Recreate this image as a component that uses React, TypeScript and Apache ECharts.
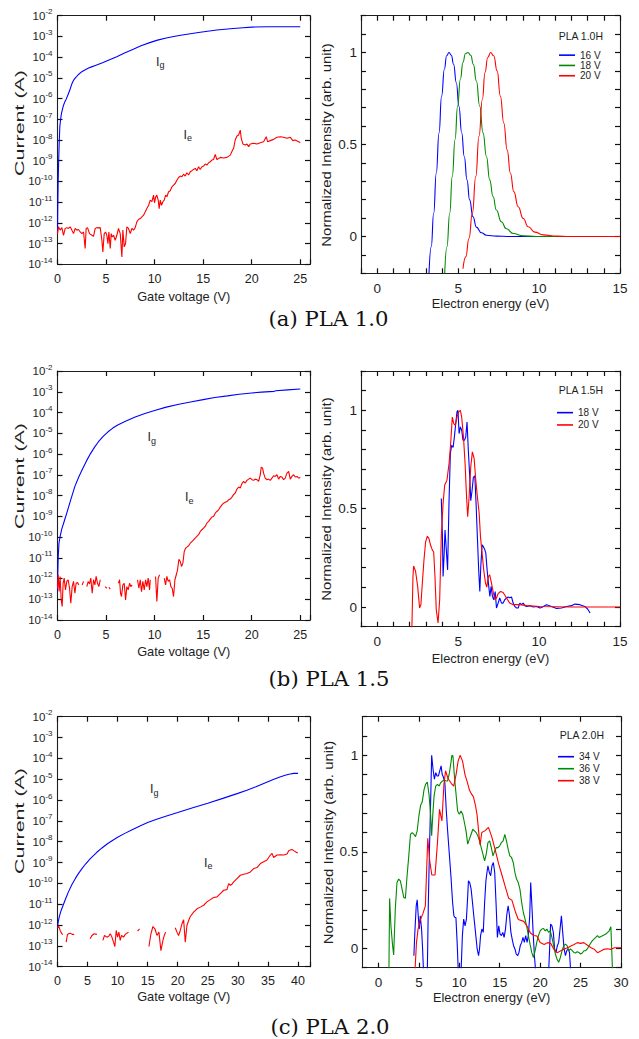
import React, { useEffect, useRef } from "react";
import * as echarts from "echarts";

const GAP: any = ["-", "-"];

// ===== Left panels: [gate voltage (V), log10(current / A)] =====
const igA = [[0,-12.5],[0.03,-11.2],[0.07,-10.0],[0.12,-9.0],[0.17,-8.2],[0.24,-7.35],[0.32,-7.0],[0.41,-6.71],[0.5,-6.53],[0.58,-6.39],[0.67,-6.26],[0.76,-6.15],[0.85,-6.07],[0.93,-5.99],[1.1,-5.79],[1.27,-5.59],[1.44,-5.34],[1.56,-5.2],[1.68,-5.1],[1.82,-5.01],[1.96,-4.94],[2.13,-4.85],[2.3,-4.78],[2.55,-4.69],[2.82,-4.62],[3.15,-4.54],[3.5,-4.47],[3.9,-4.4],[4.3,-4.33],[4.7,-4.26],[5.05,-4.19],[5.55,-4.09],[6.1,-3.98],[6.9,-3.8],[7.8,-3.62],[8.6,-3.45],[9.5,-3.3],[10.3,-3.18],[11.2,-3.08],[12.1,-2.99],[13.0,-2.92],[14.7,-2.8],[16.4,-2.69],[18.1,-2.62],[19.1,-2.58],[20.0,-2.55],[21.6,-2.53],[25.0,-2.53]];
const ieA = [[0,-12.52],[0.1,-12.19],[0.27,-12.35],[0.45,-12.23],[0.62,-12.6],[0.79,-12.27],[0.96,-12.23],[1.13,-12.27],[1.3,-12.19],[1.48,-12.35],[1.65,-12.52],[1.82,-12.27],[1.99,-12.35],[2.16,-12.32],[2.34,-12.44],[2.51,-12.52],[2.68,-12.44],[2.85,-13.24],[2.95,-12.27],[3.09,-12.23],[3.3,-12.52],[3.54,-12.6],[3.71,-12.65],[3.88,-12.27],[4.05,-12.23],[4.22,-12.24],[4.4,-12.23],[4.57,-12.84],[4.67,-13.4],[4.81,-12.52],[4.95,-12.44],[5.08,-12.6],[5.19,-13.0],[5.29,-12.44],[5.43,-13.24],[5.53,-12.52],[5.63,-12.68],[5.77,-12.6],[5.94,-12.84],[6.11,-12.6],[6.28,-12.27],[6.46,-12.52],[6.63,-13.65],[6.73,-12.35],[6.87,-13.16],[7.01,-13.0],[7.14,-12.19],[7.31,-12.27],[7.49,-12.52],[7.66,-12.27],[7.83,-12.35],[8.0,-12.23],[8.17,-11.95],[8.34,-11.84],[8.52,-11.79],[8.69,-11.71],[8.86,-11.63],[9.03,-11.47],[9.2,-11.31],[9.38,-11.15],[9.55,-10.9],[9.72,-10.98],[9.89,-10.66],[9.99,-11.03],[10.1,-10.77],[10.23,-10.66],[10.37,-10.9],[10.47,-11.31],[10.58,-10.9],[10.71,-11.15],[10.85,-10.98],[10.99,-10.9],[11.13,-10.66],[11.26,-10.74],[11.44,-10.5],[11.61,-10.45],[11.78,-10.26],[11.95,-10.18],[12.12,-10.1],[12.29,-9.94],[12.47,-9.81],[12.64,-9.74],[12.81,-9.77],[12.98,-9.65],[13.15,-9.74],[13.32,-9.58],[13.5,-9.69],[13.67,-9.53],[13.84,-9.48],[14.01,-9.42],[14.18,-9.37],[14.35,-9.48],[14.53,-9.29],[14.7,-9.42],[14.87,-9.29],[15.04,-9.26],[15.21,-9.16],[15.38,-9.21],[15.56,-9.1],[15.73,-9.05],[15.9,-8.97],[16.07,-8.94],[16.24,-8.69],[16.41,-8.94],[16.59,-8.89],[16.76,-8.84],[17.1,-8.87],[17.45,-8.84],[17.79,-8.73],[17.96,-8.56],[18.13,-8.4],[18.3,-8.0],[18.48,-7.81],[18.65,-7.76],[18.82,-7.52],[18.92,-7.92],[19.09,-8.19],[19.33,-8.24],[19.51,-8.19],[19.68,-8.32],[19.85,-8.19],[20.19,-8.16],[20.54,-8.19],[20.88,-8.13],[21.22,-8.08],[21.5,-7.84],[21.63,-8.08],[21.91,-8.03],[22.25,-7.97],[22.6,-7.87],[22.94,-7.84],[23.28,-7.87],[23.63,-7.92],[23.97,-7.87],[24.24,-8.03],[24.48,-8.0],[24.83,-8.08],[25.0,-8.13]];
const igB = [[0,-12.6],[0.03,-11.8],[0.07,-11.0],[0.15,-10.3],[0.27,-9.97],[0.45,-9.6],[0.62,-9.35],[0.82,-9.05],[1.1,-8.62],[1.4,-8.15],[1.8,-7.55],[2.2,-7.1],[2.6,-6.7],[3.0,-6.32],[3.4,-5.98],[3.8,-5.68],[4.2,-5.42],[4.7,-5.15],[5.2,-4.93],[5.7,-4.75],[6.2,-4.6],[7.0,-4.42],[8.0,-4.22],[9.0,-4.05],[10,-3.9],[11.2,-3.74],[12.5,-3.6],[13.7,-3.49],[15,-3.38],[16.2,-3.28],[17.5,-3.2],[18.7,-3.12],[20,-3.06],[21,-3.02],[22.3,-2.98],[22.5,-2.95],[23.7,-2.91],[25,-2.87]];
const ieB = [[0,-12.47],[0.07,-11.82],[0.17,-12.63],[0.27,-11.9],[0.38,-13.03],[0.48,-13.35],[0.58,-12.23],[0.69,-11.98],[0.82,-12.55],[0.96,-12.14],[1.1,-12.06],[1.24,-12.47],[1.37,-13.19],[1.51,-12.39],[1.65,-12.14],[1.79,-12.71],[1.92,-12.23],[2.06,-12.19],[2.2,-12.31],GAP,[2.54,-12.31],[2.68,-12.14],GAP,[3.02,-12.39],[3.16,-12.14],[3.3,-12.26],[3.43,-11.98],[3.57,-12.71],[3.71,-12.06],[3.85,-12.31],[3.98,-11.9],[4.12,-12.23],[4.26,-12.39],[4.4,-12.06],GAP,[4.91,-12.39],[5.08,-12.47],GAP,[5.29,-12.42],[5.43,-12.51],GAP,[6.28,-12.23],[6.39,-12.06],[6.49,-12.71],[6.59,-12.87],[6.73,-12.31],[6.87,-12.23],[7.01,-13.03],[7.14,-12.39],[7.28,-12.55],[7.42,-12.23],[7.55,-12.39],[7.69,-12.31],GAP,[8.24,-12.06],[8.38,-12.47],[8.52,-12.06],[8.65,-12.63],[8.79,-12.14],[8.93,-12.55],[9.07,-12.06],[9.2,-12.39],[9.34,-11.98],[9.48,-12.55],[9.55,-12.06],GAP,[10.1,-11.9],[10.23,-13.11],[10.37,-11.98],[10.51,-11.82],GAP,[10.99,-11.98],[11.13,-12.31],[11.26,-11.9],[11.4,-12.14],[11.54,-12.06],[11.68,-12.39],[11.81,-12.47],[11.95,-12.87],[12.09,-12.06],[12.23,-11.82],[12.36,-11.58],[12.5,-11.07],[12.64,-11.18],[12.77,-11.42],[12.91,-11.26],[13.05,-10.7],[13.19,-10.54],[13.32,-10.49],[13.5,-10.42],[13.67,-10.3],[13.84,-10.22],[14.01,-10.14],[14.18,-10.05],[14.35,-9.97],[14.53,-9.89],[14.7,-9.73],[14.87,-9.65],[15.04,-9.57],[15.21,-9.49],[15.38,-9.33],[15.56,-9.25],[15.73,-9.14],[15.9,-9.04],[16.07,-9.01],[16.24,-8.85],[16.41,-8.77],[16.59,-8.69],[16.76,-8.56],[16.93,-8.45],[17.1,-8.37],[17.27,-8.33],[17.45,-8.29],[17.62,-8.21],[17.79,-8.17],[17.96,-8.08],[18.13,-7.96],[18.3,-7.88],[18.48,-7.69],[18.65,-7.59],[18.82,-7.64],[18.99,-7.43],[19.16,-7.32],[19.33,-7.4],[19.51,-7.27],[19.68,-7.21],[19.85,-7.16],[20.02,-7.24],[20.19,-7.27],[20.36,-7.21],[20.54,-7.24],[20.71,-7.32],[20.88,-7.0],[20.98,-6.63],[21.12,-6.68],[21.22,-6.92],[21.39,-7.16],[21.57,-7.24],[21.74,-7.21],[21.91,-7.27],[22.08,-7.16],[22.25,-7.05],[22.42,-7.08],[22.6,-7.0],[22.77,-7.21],[22.94,-7.08],[23.11,-7.11],[23.28,-7.24],[23.45,-7.16],[23.63,-6.92],[23.8,-6.84],[23.97,-7.21],[24.14,-7.08],[24.31,-7.0],[24.48,-7.11],[24.66,-7.08],[24.83,-7.16],[25.0,-7.14]];
const igC = [[0,-12.07],[0.15,-11.8],[0.3,-11.6],[0.6,-11.3],[1.0,-11.0],[1.4,-10.7],[1.8,-10.42],[2.4,-10.05],[3.0,-9.75],[3.5,-9.52],[4.1,-9.28],[4.7,-9.06],[5.5,-8.8],[6.5,-8.52],[7.4,-8.3],[8.3,-8.1],[9.2,-7.93],[10,-7.79],[11.2,-7.6],[12.5,-7.41],[13.8,-7.23],[15.1,-7.07],[16.5,-6.92],[18,-6.78],[20,-6.6],[22.5,-6.37],[25,-6.15],[27.5,-5.92],[30,-5.68],[31.5,-5.53],[33,-5.36],[34,-5.24],[35,-5.12],[36,-5.0],[37,-4.89],[38,-4.8],[38.7,-4.75],[39.3,-4.72],[40,-4.72]];
const ieC = [[0,-12.13],[0.22,-12.07],[0.44,-12.26],[0.72,-12.42],[0.89,-12.45],GAP,[1.44,-12.82],[1.66,-12.45],[1.83,-12.42],[2.11,-12.39],[2.44,-12.45],[2.77,-12.45],GAP,[5.44,-12.66],[5.72,-12.5],[6.1,-12.42],[6.55,-12.45],GAP,[7.55,-12.74],[7.82,-12.5],[8.21,-12.58],[8.49,-12.55],[8.77,-12.42],[9.05,-12.58],[9.32,-12.82],[9.54,-13.03],[9.77,-12.26],[9.99,-12.58],[10.21,-12.34],[10.43,-12.74],[10.65,-12.5],[10.99,-12.58],[11.27,-12.45],[11.54,-12.39],[11.82,-12.34],GAP,[13.32,-12.29],[13.65,-12.18],GAP,[15.21,-13.03],[15.54,-12.42],[15.87,-12.07],[16.2,-12.18],[16.54,-12.5],[16.87,-12.34],[17.2,-13.23],[17.54,-12.74],[17.76,-12.5],[17.98,-12.34],GAP,[19.59,-12.13],[19.87,-12.34],[20.14,-12.5],[20.42,-12.26],[20.7,-11.94],[20.98,-11.75],[21.25,-12.82],[21.53,-12.02],[21.81,-11.78],[22.09,-11.59],[22.64,-11.38],[23.2,-11.22],[23.75,-11.14],[24.31,-11.05],[24.86,-10.89],[25.42,-10.78],[25.97,-10.68],[26.53,-10.65],[27.08,-10.49],[27.64,-10.33],[28.19,-10.3],[28.47,-10.01],[28.75,-10.09],[29.02,-10.04],[29.3,-9.93],[29.86,-9.77],[30.41,-9.61],[30.97,-9.56],[31.52,-9.53],[32.08,-9.45],[32.63,-9.29],[33.19,-9.24],[33.74,-9.05],[34.3,-8.96],[34.85,-8.88],[35.41,-8.64],[35.68,-8.56],[35.96,-8.76],[36.51,-8.64],[37.07,-8.63],[37.62,-8.64],[38.18,-8.59],[38.46,-8.43],[38.73,-8.4],[39.01,-8.37],[39.29,-8.43],[39.84,-8.53],[40.0,-8.53]];

// ===== Right panels: [electron energy (eV), normalized intensity] =====
const specA16 = [[3.2,-0.202],[3.34,-0.056],[3.49,0.126],[3.65,0.344],[3.82,0.562],[3.98,0.763],[4.15,0.909],[4.29,0.982],[4.44,1.0],[4.58,0.985],[4.72,0.936],[4.89,0.836],[5.05,0.708],[5.22,0.563],[5.38,0.435],[5.55,0.308],[5.71,0.199],[5.92,0.107],[6.13,0.051],[6.44,0.02],[6.75,0.007],[7.37,0.002],[8.19,0],[10.98,0]];
const specA18 = [[4.17,-0.202],[4.31,-0.056],[4.48,0.126],[4.64,0.327],[4.81,0.527],[4.97,0.709],[5.14,0.856],[5.3,0.947],[5.45,0.993],[5.61,1.0],[5.78,0.985],[5.94,0.936],[6.13,0.845],[6.33,0.709],[6.54,0.563],[6.75,0.435],[6.95,0.308],[7.16,0.217],[7.36,0.144],[7.67,0.08],[7.98,0.042],[8.4,0.016],[9.02,0.004],[9.84,0],[12.94,0]];
const specA20 = [[5.3,-0.175],[5.47,-0.111],[5.67,-0.011],[5.88,0.126],[6.09,0.326],[6.29,0.545],[6.5,0.746],[6.66,0.891],[6.83,0.973],[7.01,1.0],[7.2,0.982],[7.41,0.9],[7.61,0.763],[7.82,0.617],[8.03,0.471],[8.23,0.344],[8.44,0.244],[8.71,0.162],[9.02,0.098],[9.33,0.053],[9.74,0.024],[10.25,0.009],[11.08,0.002],[11.9,0],[15,0]];
const specB18 = [[3.96,0.552],[4.03,0.358],[4.07,0.155],[4.13,0.257],[4.19,0.392],[4.27,0.291],[4.35,0.189],[4.44,0.544],[4.52,0.78],[4.6,0.822],[4.69,0.811],[4.77,0.865],[4.85,0.932],[4.93,0.992],[4.99,1.0],[5.06,0.882],[5.14,0.916],[5.22,0.899],[5.3,0.848],[5.39,0.848],[5.47,0.865],[5.55,0.941],[5.63,0.797],[5.72,0.659],[5.78,0.541],[5.86,0.591],[5.94,0.659],[6.03,0.667],[6.11,0.524],[6.19,0.355],[6.27,0.189],[6.34,0.079],[6.4,0.206],[6.48,0.316],[6.56,0.307],[6.65,0.291],[6.71,0.274],[6.79,0.189],[6.87,0.122],[6.96,0.054],[7.04,0.105],[7.12,0.054],[7.2,0.037],[7.29,0.079],[7.37,-0.005],[7.47,0.02],[7.57,0.046],[7.68,0.02],[7.78,0.02],[7.88,0.037],[7.99,0.046],[8.09,0.051],[8.19,0.047],[8.3,0.051],[8.4,0.02],[8.5,0.003],[8.61,-0.005],[8.71,-0.005],[8.81,0.02],[8.92,0.012],[9.02,0.02],[9.12,0.007],[9.23,0.003],[9.43,0.007],[9.64,0],[9.85,0.003],[10.05,-0.005],[10.15,-0.002],[10.46,0.012],[10.77,0.003],[11.08,-0.007],[11.39,-0.005],[11.7,0.003],[12.01,0.007],[12.21,0.015],[12.52,0.012],[12.83,0.003],[13.0,-0.01],[13.15,-0.03]];
const specB20 = [[2.14,-0.12],[2.21,0.155],[2.25,0.209],[2.37,0.182],[2.5,0.105],[2.62,-0.005],[2.7,0.012],[2.79,0.122],[2.89,0.239],[2.99,0.331],[3.1,0.36],[3.2,0.348],[3.3,0.314],[3.41,0.289],[3.49,0.28],[3.57,0.154],[3.65,-0.014],[3.76,-0.081],[3.86,0.037],[3.96,0.358],[4.07,0.527],[4.17,0.62],[4.31,0.645],[4.44,0.73],[4.54,0.831],[4.64,0.966],[4.73,0.932],[4.83,0.924],[4.93,0.966],[5.04,0.992],[5.14,1.0],[5.22,0.966],[5.33,0.865],[5.43,0.73],[5.51,0.578],[5.59,0.459],[5.68,0.561],[5.78,0.713],[5.88,0.789],[5.99,0.755],[6.09,0.645],[6.19,0.561],[6.3,0.476],[6.38,0.358],[6.48,0.274],[6.58,0.189],[6.69,0.122],[6.77,0.101],[6.87,0.155],[6.95,0.164],[7.06,0.122],[7.16,0.079],[7.27,0.037],[7.37,0.046],[7.47,0.068],[7.62,0.079],[7.78,0.074],[7.99,0.046],[8.19,0.02],[8.4,0.012],[8.81,0.012],[9.23,0.007],[10.05,0.003],[12,0],[15,0]];
const specC34 = [[4.38,-0.038],[4.5,0.083],[4.67,0.221],[4.79,0.252],[4.92,0.169],[5.04,0.1],[5.17,0.169],[5.33,0.1],[5.46,-0.003],[5.58,-0.13],[6.04,-0.13],[6.17,0.238],[6.29,0.479],[6.46,0.772],[6.58,1.0],[6.75,0.928],[6.92,0.876],[7.08,0.91],[7.25,0.893],[7.42,0.893],[7.58,0.919],[7.75,0.945],[7.88,0.902],[8.04,0.886],[8.21,0.859],[8.38,0.721],[8.54,0.617],[8.75,0.497],[8.96,0.376],[9.17,0.238],[9.33,0.169],[9.46,0.16],[9.58,0.16],[9.75,0.014],[9.88,-0.13],[10.21,-0.13],[10.38,0.066],[10.54,0.152],[10.71,0.117],[10.88,0.152],[11.04,0.272],[11.13,0.35],[11.29,0.341],[11.46,0.307],[11.63,0.238],[11.79,0.169],[11.96,0.1],[12.21,-0.003],[12.38,-0.038],[12.5,-0.003],[12.63,0.066],[12.79,0.1],[12.96,0.083],[13.13,0.238],[13.29,0.35],[13.42,0.393],[13.54,0.428],[13.71,0.393],[13.88,0.376],[14.04,0.428],[14.21,0.445],[14.38,0.393],[14.54,0.238],[14.71,0.057],[14.88,0.117],[15.04,0.074],[15.21,0.066],[15.38,0.083],[15.54,0.057],[15.71,0.1],[15.88,0.177],[16.04,0.221],[16.21,0.169],[16.38,0.083],[16.54,0.048],[16.71,0.014],[16.88,-0.003],[17.04,-0.029],[17.21,-0.038],[17.38,-0.021],[17.54,0.014],[17.71,0.031],[17.88,0.057],[18.04,0.031],[18.21,0.066],[18.38,0.031],[18.54,0.066],[18.71,0.169],[18.83,0.341],[18.96,0.238],[19.13,0.083],[19.29,-0.038],[19.46,-0.13],[21.04,-0.13],[21.17,-0.003],[21.29,0.126],[21.46,0.117],[21.63,0.083],[21.79,-0.003],[21.96,-0.021],[22.13,0.014],[22.29,0.031],[22.46,0.1],[22.63,0.169],[22.79,0.083],[22.96,-0.003],[23.13,-0.038],[23.29,-0.012],[23.46,-0.003],[23.63,-0.021],[23.79,-0.13]];
const specC36 = [[1.29,-0.13],[1.38,0.259],[1.54,0.117],[1.75,0.014],[1.88,-0.034],[2.08,0.203],[2.29,0.341],[2.5,0.359],[2.71,0.35],[2.92,0.307],[3.13,0.264],[3.33,0.259],[3.54,0.376],[3.75,0.479],[3.96,0.591],[4.17,0.6],[4.38,0.591],[4.58,0.579],[4.79,0.609],[5.0,0.686],[5.21,0.741],[5.42,0.759],[5.63,0.821],[5.83,0.85],[6.04,0.862],[6.25,0.798],[6.46,0.686],[6.58,0.583],[6.71,0.686],[6.88,0.79],[7.08,0.841],[7.29,0.85],[7.5,0.841],[7.71,0.859],[7.92,0.867],[8.13,0.872],[8.33,0.867],[8.54,0.867],[8.75,0.902],[8.96,0.962],[9.08,1.0],[9.21,0.997],[9.38,0.9],[9.58,0.806],[9.79,0.712],[10.0,0.695],[10.21,0.712],[10.42,0.695],[10.63,0.652],[10.83,0.609],[11.04,0.54],[11.25,0.566],[11.46,0.591],[11.67,0.617],[11.88,0.609],[12.08,0.6],[12.29,0.583],[12.5,0.557],[12.71,0.522],[12.92,0.488],[13.13,0.453],[13.33,0.488],[13.54,0.548],[13.75,0.557],[13.96,0.522],[14.17,0.479],[14.38,0.505],[14.58,0.522],[14.79,0.522],[15.0,0.531],[15.21,0.548],[15.42,0.557],[15.63,0.591],[15.83,0.557],[16.04,0.514],[16.25,0.479],[16.46,0.471],[16.67,0.445],[16.88,0.393],[17.08,0.359],[17.29,0.341],[17.5,0.307],[17.71,0.238],[17.92,0.186],[18.13,0.152],[18.33,0.117],[18.54,0.066],[18.75,0.022],[18.96,-0.021],[19.17,-0.047],[19.38,-0.012],[19.58,0.031],[19.79,0.066],[20.0,0.091],[20.21,0.1],[20.42,0.103],[20.63,0.091],[20.83,0.1],[21.04,0.083],[21.25,0.091],[21.46,0.057],[21.67,0.014],[21.88,-0.029],[22.08,-0.055],[22.29,-0.072],[22.5,-0.047],[22.71,-0.012],[22.92,0.014],[23.13,0.022],[23.33,0.014],[23.54,-0.012],[23.75,-0.003],[23.96,-0.012],[24.17,-0.021],[24.38,-0.024],[24.58,-0.017],[24.79,-0.021],[25.0,-0.029],[25.21,-0.024],[25.42,-0.012],[25.63,-0.012],[25.83,-0.003],[26.04,0.014],[26.46,0.04],[26.88,0.057],[27.08,0.066],[27.29,0.057],[27.71,0.066],[28.13,0.074],[28.54,0.091],[28.75,0.112],[28.88,-0.038],[28.96,-0.13]];
const specC38 = [[4.5,-0.13],[4.7,0.03],[4.9,0.1],[5.2,0.15],[5.5,0.18],[5.8,0.22],[6.1,0.57],[6.35,0.45],[6.6,0.38],[7.0,0.38],[7.3,0.55],[7.55,0.72],[7.85,0.66],[8.1,0.85],[8.3,0.92],[8.6,0.88],[9.0,0.855],[9.3,0.84],[9.6,0.9],[9.85,0.97],[10.1,1.0],[10.4,0.97],[10.7,0.9],[11.0,0.86],[11.25,0.82],[11.5,0.8],[11.75,0.785],[12.0,0.74],[12.2,0.69],[12.45,0.58],[12.57,0.536],[12.78,0.6],[13.2,0.61],[13.6,0.627],[14.0,0.58],[14.44,0.51],[14.85,0.44],[15.27,0.38],[15.68,0.32],[16.1,0.26],[16.5,0.25],[16.93,0.19],[17.3,0.15],[17.97,0.14],[18.38,0.115],[18.8,0.08],[19.2,0.067],[19.6,0.064],[20.0,0.03],[20.5,0.02],[20.9,0.03],[21.3,0.026],[21.7,-0.005],[22.1,-0.022],[22.5,-0.014],[22.9,-0.005],[23.4,0.003],[23.8,0.012],[24.2,0.02],[24.6,0.03],[25.0,0.026],[25.4,0.03],[25.9,0.015],[26.3,0.003],[26.7,-0.005],[27.1,-0.022],[27.5,-0.014],[27.9,-0.005],[28.3,-0.002],[28.75,-0.005],[29.2,0.003],[29.6,0.003],[30.0,0.003]];

// ===== Tick labels =====
const gateLabelsAB = [0, 5, 10, 15, 20, 25];
const gateLabelsC = [0, 5, 10, 15, 20, 25, 30, 35, 40];
const decades = [-14, -13, -12, -11, -10, -9, -8, -7, -6, -5, -4, -3, -2];
const energyLabelsAB = [0, 5, 10, 15];
const energyLabelsC = [0, 5, 10, 15, 20, 25, 30];
const intensityLabels = [0, 0.5, 1];

const SANS = "'Liberation Sans', Arial, Helvetica, sans-serif";
const SERIF = "'DejaVu Serif', 'Liberation Serif', serif";
const INK = "#1e1e1e";
const BLUE = "#0000ff";
const GREEN = "#008a00";
const RED = "#ff0000";

const GRIDS = [
  { left: 57.5, top: 15.7, width: 252.5, height: 248.6 },
  { left: 361, top: 15.7, width: 259, height: 257.6 },
  { left: 57.5, top: 371, width: 252.5, height: 249 },
  { left: 361, top: 371, width: 259, height: 255.7 },
  { left: 57.5, top: 716.7, width: 252.5, height: 250 },
  { left: 362.3, top: 716.7, width: 258.7, height: 251 },
];

const axisLine = { show: true, onZero: false, lineStyle: { color: INK, width: 1.1 } };
const baseTick = { show: true, inside: true, length: 5, lineStyle: { color: "#111", width: 1.2 } };

function xAxes(gi: number, min: number, max: number, interval: number, labels: number[], name: string, nameGap: number, fs: number, customTicks?: number[]) {
  const axisTick = customTicks ? { ...baseTick, customValues: customTicks } : baseTick;
  return [
    {
      type: "value", gridIndex: gi, position: "bottom", min, max, interval, axisLine, axisTick,
      axisLabel: { show: true, customValues: labels, margin: 8, color: INK, fontSize: fs, fontFamily: SANS, formatter: (v: number) => String(v) },
      splitLine: { show: false }, name, nameLocation: "middle", nameGap,
      nameTextStyle: { color: INK, fontSize: 12.8, fontFamily: SANS },
    },
    { type: "value", gridIndex: gi, position: "top", min, max, interval, axisLine, axisTick, axisLabel: { show: false }, splitLine: { show: false } },
  ];
}

const logRich = {
  b: { fontSize: 11.5, lineHeight: 16, fontFamily: SANS, color: INK },
  s: { fontSize: 8, lineHeight: 8, verticalAlign: "top", fontFamily: SANS, color: INK },
};

function yAxesLog(gi: number) {
  return [
    {
      type: "value", gridIndex: gi, position: "left", min: -14, max: -2, interval: 1, axisLine, axisTick: baseTick,
      axisLabel: { show: true, customValues: decades, margin: 5, formatter: (v: number) => `{b|10}{s|${v}}`, rich: logRich },
      splitLine: { show: false },
    },
    { type: "value", gridIndex: gi, position: "right", min: -14, max: -2, interval: 1, axisLine, axisTick: baseTick, axisLabel: { show: false }, splitLine: { show: false } },
  ];
}

function yAxesLin(gi: number, min: number) {
  return [
    {
      type: "value", gridIndex: gi, position: "left", min, max: 1.2, interval: 0.1, axisLine, axisTick: baseTick,
      axisLabel: { show: true, customValues: intensityLabels, margin: 4, color: INK, fontSize: 13.5, fontFamily: SANS, formatter: (v: number) => String(v) },
      splitLine: { show: false },
    },
    { type: "value", gridIndex: gi, position: "right", min, max: 1.2, interval: 0.1, axisLine, axisTick: baseTick, axisLabel: { show: false }, splitLine: { show: false } },
  ];
}

function line(name: string, gi: number, data: any[], color: string, smooth = false) {
  return {
    type: "line", name, xAxisIndex: 2 * gi, yAxisIndex: 2 * gi, data, showSymbol: false, symbol: "none",
    smooth, smoothMonotone: smooth ? "x" : undefined, connectNulls: false, clip: true, silent: true,
    lineStyle: { color, width: 1.1 }, itemStyle: { color },
  };
}

const subRich = {
  i: { fontSize: 12.5, lineHeight: 16, fontFamily: SANS, fill: INK, color: INK },
  g: { fontSize: 9, lineHeight: 9, verticalAlign: "bottom", fontFamily: SANS, fill: INK, color: INK },
};
function subLabel(x: number, y: number, sub: string) {
  return { type: "text", x, y, silent: true, style: { text: `{i|I}{g|${sub}}`, rich: subRich, align: "left", verticalAlign: "middle", fill: INK } };
}
function vName(x: number, y: number, text: string, sx: number) {
  return { type: "text", x, y, rotation: Math.PI / 2, scaleX: sx, silent: true, style: { text, fontSize: 13, fontFamily: SANS, fill: INK, align: "center", verticalAlign: "middle" } };
}
function caption(x: number, y: number, text: string) {
  return { type: "text", x, y, scaleX: 1.06, silent: true, style: { text, fontSize: 20, fontFamily: SERIF, fill: "#111", align: "center", verticalAlign: "middle" } };
}
function legTitle(x: number, y: number, text: string) {
  return { type: "text", x, y, silent: true, style: { text, fontSize: 10.5, fontFamily: SANS, fill: INK, align: "right", verticalAlign: "middle" } };
}
function legend(names: string[], left: number, top: number, lh: number) {
  return {
    data: names, orient: "vertical", left, top, padding: 0, itemGap: 0, itemWidth: 16, itemHeight: 1.6, icon: "rect",
    selectedMode: false, formatter: (n: string) => n.split("|")[1],
    textStyle: { fontSize: 10, lineHeight: lh, color: INK, fontFamily: SANS },
  };
}

export default function App() {
  const ref = useRef<HTMLDivElement>(null);
  useEffect(() => {
    if (!ref.current) return;
    const chart = echarts.init(ref.current, undefined, { renderer: "svg" });
    const option: any = {
      animation: false,
      backgroundColor: "#ffffff",
      grid: GRIDS.map((g) => ({ ...g, containLabel: false, outerBoundsMode: "none", show: false })),
      xAxis: [
        ...xAxes(0, 0, 26, 5, gateLabelsAB, "Gate voltage (V)", 25.5, 12.5),
        ...xAxes(1, -1, 15, 1, energyLabelsAB, "Electron energy (eV)", 23.5, 13.5),
        ...xAxes(2, 0, 26, 5, gateLabelsAB, "Gate voltage (V)", 24.5, 12.5),
        ...xAxes(3, -1, 15, 1, energyLabelsAB, "Electron energy (eV)", 25, 13.5),
        ...xAxes(4, 0, 42, 5, gateLabelsC, "Gate voltage (V)", 23.5, 12.5),
        ...xAxes(5, -2, 30, 1, energyLabelsC, "Electron energy (eV)", 23, 13.5, energyLabelsC),
      ],
      yAxis: [
        ...yAxesLog(0),
        ...yAxesLin(1, -0.2),
        ...yAxesLog(2),
        ...yAxesLin(3, -0.1),
        ...yAxesLog(4),
        ...yAxesLin(5, -0.1),
      ],
      legend: [
        legend(["a|16 V", "a|18 V", "a|20 V"], 559, 50, 10.3),
        legend(["b|18 V", "b|20 V"], 557, 406.5, 12.3),
        legend(["c|34 V", "c|36 V", "c|38 V"], 558, 750.7, 12),
      ],
      series: [
        line("a|Ig", 0, igA, BLUE),
        line("a|Ie", 0, ieA, RED),
        line("a|16 V", 1, specA16, BLUE, true),
        line("a|18 V", 1, specA18, GREEN, true),
        line("a|20 V", 1, specA20, RED, true),
        line("b|Ig", 2, igB, BLUE),
        line("b|Ie", 2, ieB, RED),
        line("b|18 V", 3, specB18, BLUE),
        line("b|20 V", 3, specB20, RED),
        line("c|Ig", 4, igC, BLUE),
        line("c|Ie", 4, ieC, RED),
        line("c|34 V", 5, specC34, BLUE),
        line("c|36 V", 5, specC36, GREEN),
        line("c|38 V", 5, specC38, RED),
      ],
      graphic: {
        elements: [
          vName(20, 123, "Current (A)", 1.65),
          vName(20, 476, "Current (A)", 1.65),
          vName(20, 821, "Current (A)", 1.65),
          vName(326, 145, "Normalized Intensity (arb. unit)", 1.15),
          vName(326, 499, "Normalized Intensity (arb. unit)", 1.15),
          vName(328, 842.5, "Normalized Intensity (arb. unit)", 1.15),
          caption(328.5, 319, "(a) PLA 1.0"),
          caption(329, 679, "(b) PLA 1.5"),
          caption(330, 1027.5, "(c) PLA 2.0"),
          legTitle(603, 36, "PLA 1.0H"),
          legTitle(603, 390, "PLA 1.5H"),
          legTitle(604, 735, "PLA 2.0H"),
          subLabel(156, 61.5, "g"),
          subLabel(183.5, 134.5, "e"),
          subLabel(147.5, 437, "g"),
          subLabel(185, 497, "e"),
          subLabel(150, 789, "g"),
          subLabel(204, 862.5, "e"),
        ],
      },
    };
    chart.setOption(option);
    return () => chart.dispose();
  }, []);
  return <div ref={ref} style={{ position: "absolute", left: 0, top: 0, width: 639, height: 1039 }} />;
}
